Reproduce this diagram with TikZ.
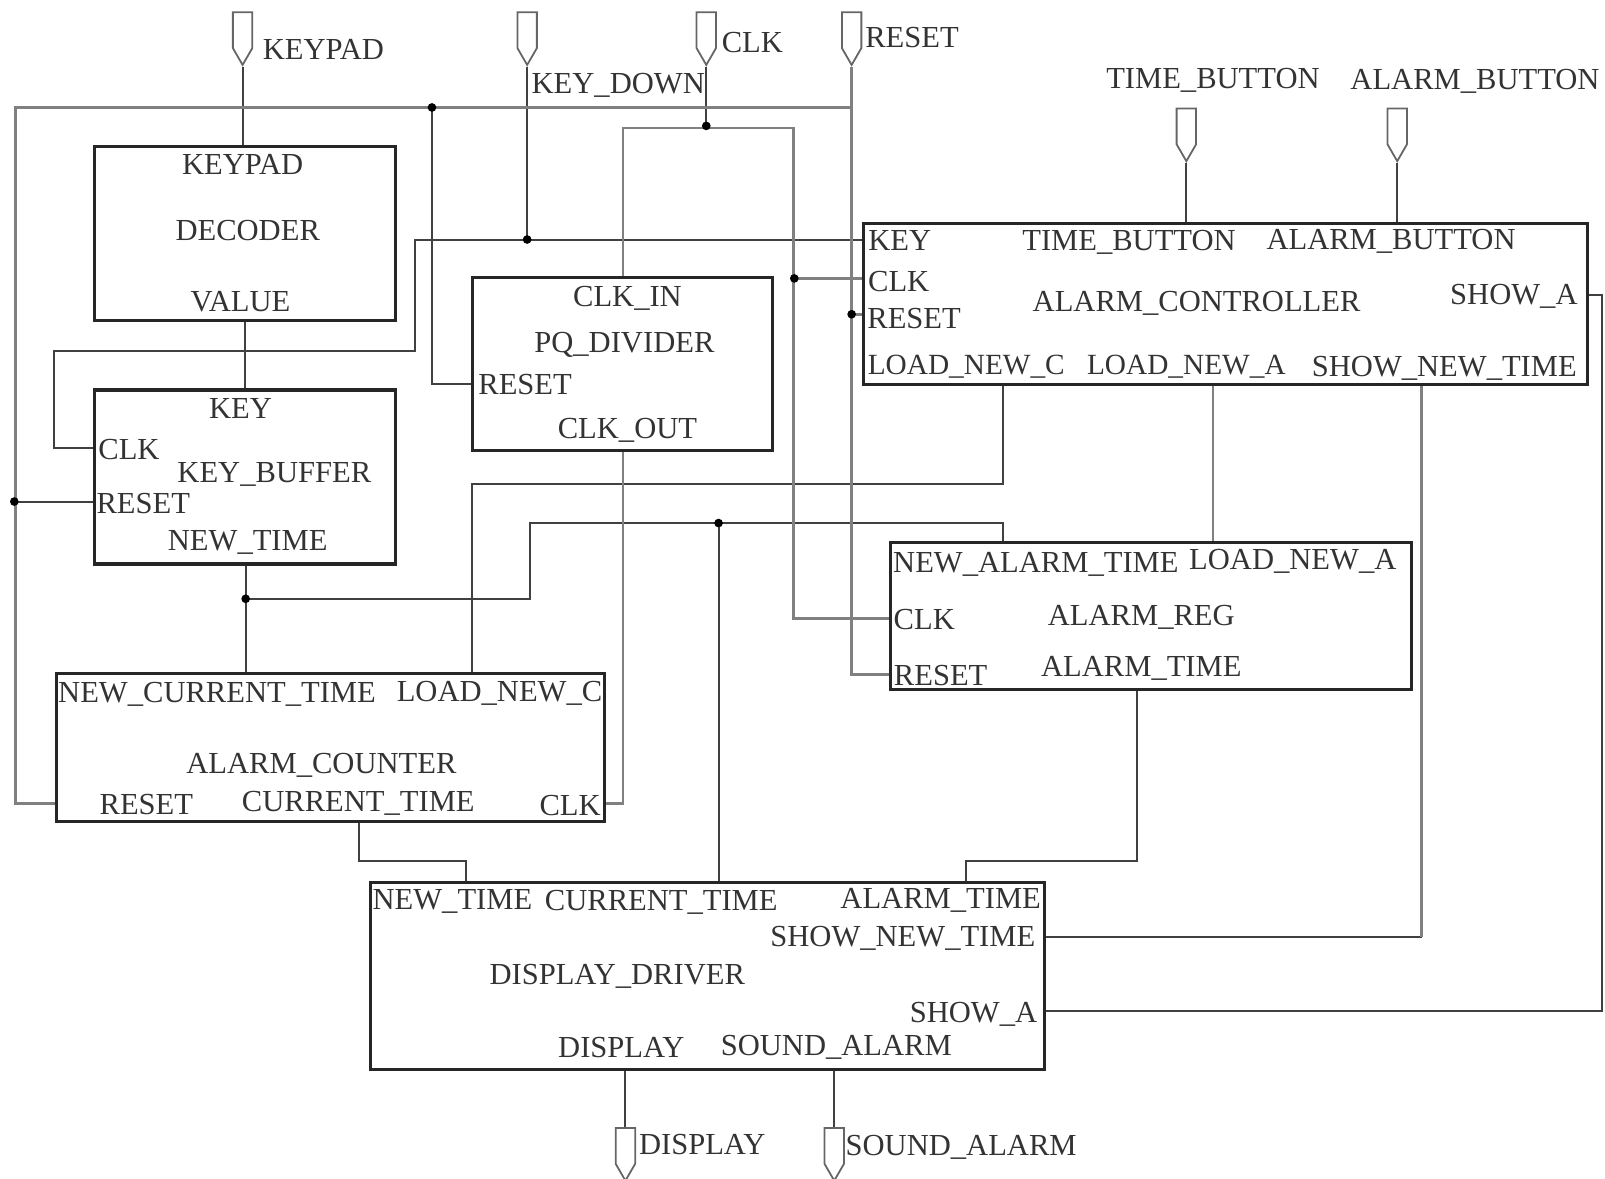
\documentclass[tikz,border=0pt]{standalone}
\usepackage{fontspec}
\setmainfont{Liberation Serif}
\usepackage{tikz}
\usetikzlibrary{shapes.symbols,calc}
\tikzset{
  blockbox/.style n args={2}{draw=black!85, line width=1.7pt, inner sep=0pt, minimum width=#1*0.02cm, minimum height=#2*0.02cm},
  sigtext/.style={inner sep=0pt, text height=12pt, text depth=0pt, text=black!80, font=\fontsize{17}{18}\selectfont},
  smalltext/.style={sigtext, font=\fontsize{16.3}{18}\selectfont},
  pinport/.style={draw=black!60, line width=1pt, signal, signal to=south, signal pointer angle=60, inner sep=0pt, minimum width=0.38cm, minimum height=0.7cm},
  junction/.style={circle, fill=black, inner sep=0pt, minimum size=0.17cm},
  wire/.style={draw=black!75, line width=1.1pt},
  graywire/.style={draw=black!50, line width=1.5pt}
}
\begin{document}
\begin{tikzpicture}[x=0.02cm, y=-0.02cm]
    \path[use as bounding box, clip] (0,0) rectangle (1568,1151);
    % blocks
    \node[blockbox={294}{170}] (decoder) at (239,228) {};
    \node[blockbox={294}{170}] (keybuf) at (239,466) {};
    \node[blockbox={293}{169}] (pqdiv) at (608.5,355.5) {};
    \node[blockbox={707}{158}] (ctrl) at (1197.5,297) {};
    \node[blockbox={509}{144}] (alarmreg) at (1124.5,602) {};
    \node[blockbox={536}{145}] (counter) at (323,730.5) {};
    \node[blockbox={658}{183}] (driver) at (691,953.5) {};
    % pins
    \node[pinport] (pinkeypad) at (237,29.5) {};
    \node[pinport] (pinkeydown) at (515,29.5) {};
    \node[pinport] (pinclk) at (690,29.5) {};
    \node[pinport] (pinreset) at (832,29.5) {};
    \node[pinport] (pintime) at (1159,123.5) {};
    \node[pinport] (pinalarm) at (1365,123.5) {};
    \node[pinport] (pindisplay) at (611,1119.5) {};
    \node[pinport] (pinsound) at (815,1119.5) {};
    % pin labels
    \node[sigtext] (lkeypad) at (316,48) {KEYPAD};
    \node[sigtext] (lkeydown) at (604,81) {KEY\_DOWN};
    \node[sigtext] (lclk) at (735,41) {CLK};
    \node[sigtext] (lreset) at (891,36) {RESET};
    \node[sigtext] (ltime) at (1185,76) {TIME\_BUTTON};
    \node[sigtext] (lalarm) at (1441,77) {ALARM\_BUTTON};
    \node[sigtext] (ldisplay) at (686,1117) {DISPLAY};
    \node[sigtext] (lsound) at (939,1118) {SOUND\_ALARM};
    % decoder text
    \node[sigtext] (deckeypad) at (237,160) {KEYPAD};
    \node[sigtext] (decname) at (242,224) {DECODER};
    \node[sigtext] (decvalue) at (235,294) {VALUE};
    % key buffer text
    \node[sigtext] (kbkey) at (235,398) {KEY};
    \node[sigtext] (kbclk) at (126,438) {CLK};
    \node[sigtext] (kbname) at (268,461) {KEY\_BUFFER};
    \node[sigtext] (kbreset) at (140,491) {RESET};
    \node[sigtext] (kbnew) at (242,527) {NEW\_TIME};
    % divider text
    \node[sigtext] (pqin) at (613,289) {CLK\_IN};
    \node[sigtext] (pqname) at (610,334) {PQ\_DIVIDER};
    \node[sigtext] (pqreset) at (513,375) {RESET};
    \node[sigtext] (pqout) at (613,418) {CLK\_OUT};
    % controller text
    \node[sigtext] (ckey) at (879,234) {KEY};
    \node[sigtext] (ctime) at (1103,234) {TIME\_BUTTON};
    \node[sigtext] (calarm) at (1359,233) {ALARM\_BUTTON};
    \node[sigtext] (cclk) at (878,274) {CLK};
    \node[sigtext] (cname) at (1169,294) {ALARM\_CONTROLLER};
    \node[sigtext] (cshow) at (1479,287) {SHOW\_A};
    \node[sigtext] (creset) at (893,310) {RESET};
    \node[smalltext] (cloadc) at (944,355) {LOAD\_NEW\_C};
    \node[smalltext] (cloada) at (1159,355) {LOAD\_NEW\_A};
    \node[sigtext] (cshownew) at (1411,357) {SHOW\_NEW\_TIME};
    % alarm register text
    \node[sigtext] (rnew) at (1012,549) {NEW\_ALARM\_TIME};
    \node[sigtext] (rload) at (1263,546) {LOAD\_NEW\_A};
    \node[sigtext] (rclk) at (903,604) {CLK};
    \node[sigtext] (rname) at (1115,601) {ALARM\_REG};
    \node[sigtext] (rreset) at (919,659) {RESET};
    \node[sigtext] (rtime) at (1115,650) {ALARM\_TIME};
    % counter text
    \node[sigtext] (cntnew) at (212,676) {NEW\_CURRENT\_TIME};
    \node[sigtext] (cntload) at (488,675) {LOAD\_NEW\_C};
    \node[sigtext] (cntname) at (314,745) {ALARM\_COUNTER};
    \node[sigtext] (cntreset) at (143,785) {RESET};
    \node[sigtext] (cnttime) at (350,782) {CURRENT\_TIME};
    \node[sigtext] (cntclk) at (557,786) {CLK};
    % driver text
    \node[sigtext] (drvnew) at (442,878) {NEW\_TIME};
    \node[sigtext] (drvcur) at (646,879) {CURRENT\_TIME};
    \node[sigtext] (drvalarm) at (919,877) {ALARM\_TIME};
    \node[sigtext] (drvshownew) at (882,914) {SHOW\_NEW\_TIME};
    \node[sigtext] (drvname) at (603,951) {DISPLAY\_DRIVER};
    \node[sigtext] (drvshow) at (951,988) {SHOW\_A};
    \node[sigtext] (drvdisplay) at (607,1023) {DISPLAY};
    \node[sigtext] (drvsound) at (817,1021) {SOUND\_ALARM};
    % junction places
    \coordinate (jreset) at (422,105);
    \coordinate (jresetkb) at (14,490);
    \coordinate (jresetc) at (832,307);
    \coordinate (jkey) at (515,234);
    \coordinate (jclk) at (690,123);
    \coordinate (jclkc) at (776,272);
    \coordinate (jnew) at (240,585);
    \coordinate (jcur) at (702,511);
    % bends
    \coordinate (bkey) at (405,343);
    \coordinate (bkeyl) at (53,343);
    \coordinate (bclkl) at (609,125);
    \coordinate (bclkr) at (775,125);
    \coordinate (bresetl) at (15,105);
    \coordinate (bnew) at (518,585);
    \coordinate (bnewt) at (980,511);
    \coordinate (bloadc) at (980,473);
    \coordinate (bloadl) at (461,473);
    \coordinate (bloada) at (1185,400);
    \coordinate (bshow) at (1389,915);
    \coordinate (bshowa) at (1565,288);
    \coordinate (bshowb) at (1565,988);
    \coordinate (bcnt) at (351,841);
    \coordinate (bdrv) at (455,841);
    \coordinate (breg) at (1111,841);
    \coordinate (bdrvr) at (944,841);
    % connectors
    \draw[wire] (pinkeypad.south) -- (pinkeypad.south |- decoder.north);
    \draw[wire] (pinkeydown.south) -- (jkey);
    \draw[wire] (pinclk.south) -- (jclk);
    \draw[wire] (decoder.south) -- (keybuf.north);
    \draw[wire] (ctrl.west |- jkey) -- (bkey |- jkey) -- (bkey) -- (bkeyl) |- (keybuf.west |- kbclk);
    \draw[wire] (jresetkb) -- (keybuf.west |- jresetkb);
    \draw[wire] (jreset) |- (pqdiv.west |- pqreset);
    \draw[wire] (jnew |- keybuf.south) -- (jnew |- counter.north);
    \draw[wire] (jnew) -- (bnew) |- (bnewt) -- (bnewt |- alarmreg.north);
    \draw[wire] (jcur) -- (jcur |- driver.north);
    \draw[wire] (pintime.south) -- (pintime.south |- ctrl.north);
    \draw[wire] (pinalarm.south) -- (pinalarm.south |- ctrl.north);
    \draw[wire] (bloadc |- ctrl.south) -- (bloadc) -- (bloadl) -- (bloadl |- counter.north);
    \draw[wire] (bshowa -| ctrl.east) -- (bshowa) -- (bshowb) -- (bshowb -| driver.east);
    \draw[wire] (bcnt |- counter.south) -- (bcnt) -- (bdrv) -- (bdrv |- driver.north);
    \draw[wire] (breg |- alarmreg.south) -- (breg) -- (bdrvr) -- (bdrvr |- driver.north);
    \draw[wire] (bshow) -- (driver.east |- bshow);
    \draw[wire] (pindisplay.north |- driver.south) -- (pindisplay.north);
    \draw[wire] (pinsound.north |- driver.south) -- (pinsound.north);
    \draw[graywire] (pinreset.south) -- (pinreset.south |- rreset) -- (alarmreg.west |- rreset);
    \draw[graywire] (pinreset.south |- jreset) -- (bresetl) |- (counter.west |- cntreset);
    \draw[graywire] (jresetc) -- (ctrl.west |- jresetc);
    \draw[graywire] (pqdiv.north) -- (bclkl -| pqdiv.north) -- (bclkr) |- (alarmreg.west |- rclk);
    \draw[graywire] (jclkc) -- (ctrl.west |- jclkc);
    \draw[graywire] (pqdiv.south) |- (counter.east |- cntreset);
    \draw[graywire] (bshow |- ctrl.south) -- (bshow);
    \draw[graywire] (bloada |- ctrl.south) -- (bloada |- alarmreg.north);
    % dots last, over the wires
    \foreach \j in {jreset,jresetkb,jresetc,jkey,jclk,jclkc,jnew,jcur}
      \node[junction] (dot\j) at (\j) {};
  \end{tikzpicture}
\end{document}
